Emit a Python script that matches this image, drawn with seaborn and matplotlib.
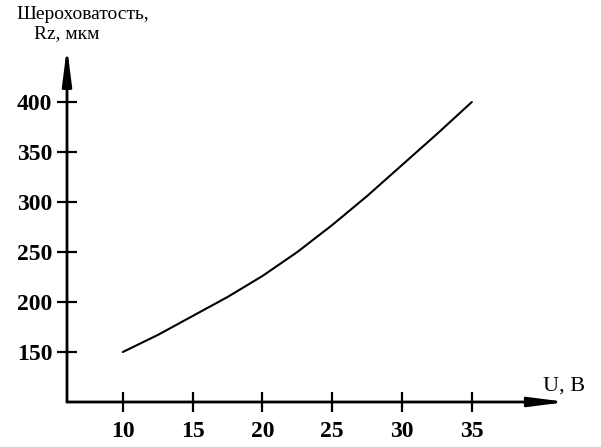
import matplotlib
matplotlib.use("Agg")
import matplotlib.pyplot as plt
import seaborn as sns
import pandas as pd

# Data
voltage = [10, 12.5, 15, 17.5, 20, 22.5, 25, 27.5, 30, 32.5, 35]
roughness = [150, 167, 186, 205, 226, 250, 277, 306, 337, 368, 400]
x_ticks = [10, 15, 20, 25, 30, 35]
y_ticks = [150, 200, 250, 300, 350, 400]
y_title_line1 = "Шероховатость,"
y_title_line2 = "Rz, мкм"
x_title = "U, В"

sns.set_theme(style="white")
plt.rcParams['font.family'] = ['Liberation Serif', 'DejaVu Serif']

df = pd.DataFrame({"U": voltage, "Rz": roughness})

fig = plt.figure(figsize=(6.01, 4.47), dpi=100)
W, H = 601, 447
ax = fig.add_axes([67 / W, 1 - 402 / H, (557 - 67) / W, (402 - 47) / H])

sns.lineplot(data=df, x="U", y="Rz", ax=ax, color="black", linewidth=1.5)

ax.set_xlim(6, 41.1)
ax.set_ylim(100, 455)
ax.set_xticks(x_ticks)
ax.set_yticks(y_ticks)
ax.set_xticklabels([str(t) for t in x_ticks], fontsize=17, fontweight="bold")
ax.set_yticklabels([str(t) for t in y_ticks], fontsize=17, fontweight="bold")
ax.set_xlabel("")
ax.set_ylabel("")
for s in ax.spines.values():
    s.set_visible(False)
ax.tick_params(axis="x", direction="inout", length=14, width=1.6, color="black", pad=7, labelcolor="black")
ax.tick_params(axis="y", direction="inout", length=15, width=1.6, color="black", pad=3, labelcolor="black")
ax.tick_params(bottom=True, left=True)

arrow = dict(arrowstyle="-|>,head_length=1.1,head_width=0.14", lw=2.0, color="black",
             mutation_scale=20, shrinkA=0, shrinkB=0)
ax.annotate("", xy=(1.02, 0), xytext=(0, 0), xycoords="axes fraction", arrowprops=arrow)
ax.annotate("", xy=(0, 1), xytext=(0, 0), xycoords="axes fraction", arrowprops=arrow)

fig.text(16 / W, 1 - 19 / H, y_title_line1, fontsize=14, ha="left", va="baseline", color="black")
fig.text(34 / W, 1 - 38 / H, y_title_line2, fontsize=14, ha="left", va="baseline", color="black")
fig.text(543 / W, 1 - 391 / H, x_title, fontsize=16, ha="left", va="baseline", color="black")

fig.savefig("out.png", dpi=100, facecolor="white")
